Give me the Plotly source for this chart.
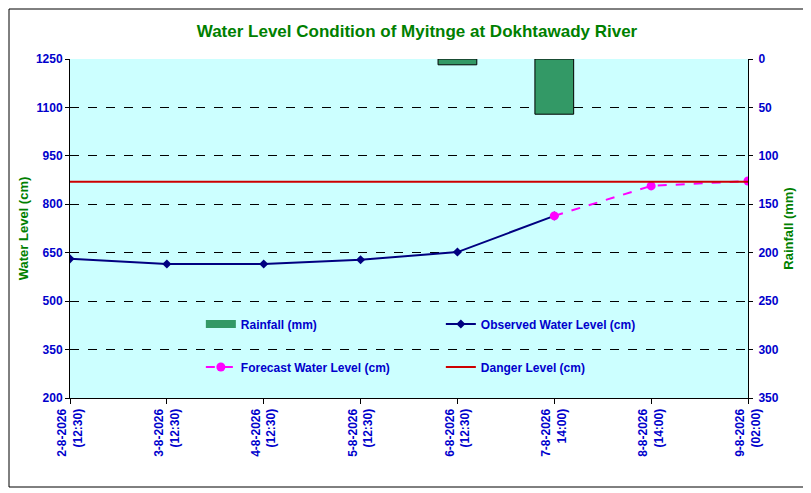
import plotly.graph_objects as go

# categories on x axis
dates = ["2-8-2026<br>(12:30)", "3-8-2026<br>(12:30)", "4-8-2026<br>(12:30)",
         "5-8-2026<br>(12:30)", "6-8-2026<br>(12:30)", "7-8-2026<br>14:00)",
         "8-8-2026<br>(14:00)", "9-8-2026<br>(02:00)"]
xpos = list(range(len(dates)))

rainfall = [None, None, None, None, 6, 57, None, None]
observed = [631, 615, 615, 628, 652, 764, None, None]
forecast = [None, None, None, None, None, 764, 857, 872]
danger_level = 870
danger = [danger_level] * len(dates)

blue = "#0000CC"
green = "#008000"
bar_green = "#339966"
font = "Liberation Sans, Arial, sans-serif"

# page has an 8px body margin, so the figure is a bit smaller than the window
W, H = 803, 485
L, R, T, B = 62, 63, 51, 95
pw, ph = W - L - R, H - T - B

fig = go.Figure()

fig.add_trace(go.Bar(
    x=xpos, y=rainfall, name="<b>Rainfall (mm)</b>", yaxis="y2",
    width=0.4, marker=dict(color=bar_green, line=dict(color="black", width=1)),
    showlegend=False, legendgroup="rain"))

# legend entry for the rainfall bars (wide flat swatch like the original)
fig.add_trace(go.Scatter(
    x=[None], y=[None], name="<b>Rainfall (mm)</b>", mode="lines",
    line=dict(color=bar_green, width=8), legendgroup="rain",
    legend="legend"))

fig.add_trace(go.Scatter(
    x=xpos, y=observed, name="<b>Observed Water Level (cm)</b>", mode="lines+markers",
    line=dict(color="#000080", width=2), marker=dict(symbol="diamond", size=7),
    legend="legend"))

fig.add_trace(go.Scatter(
    x=xpos, y=forecast, name="<b>Forecast Water Level (cm)</b>", mode="lines+markers",
    line=dict(color="#FF00FF", width=2, dash="dash"), marker=dict(symbol="circle", size=9),
    legend="legend2"))

fig.add_trace(go.Scatter(
    x=xpos, y=danger, name="<b>Danger Level (cm)</b>", mode="lines",
    line=dict(color="#CC0000", width=2),
    legend="legend2"))

fig.update_layout(
    width=W, height=H,
    margin=dict(l=L, r=R, t=T, b=B),
    paper_bgcolor="white", plot_bgcolor="#CCFFFF",
    font=dict(family=font, color=blue, size=12),
    title=dict(text="<b>Water Level Condition of Myitnge at Dokhtawady River</b>",
               x=409 / W, xanchor="center", y=1 - 23 / H, yanchor="middle",
               font=dict(size=17, color=green)),
    xaxis=dict(range=[0, 7], tickvals=xpos, ticktext=["<b>" + d + "</b>" for d in dates],
               tickangle=-90, showgrid=False, zeroline=False, automargin=False,
               showline=True, linecolor="black", linewidth=1,
               ticks="outside", ticklen=5, tickcolor="black",
               tickfont=dict(size=12, color=blue)),
    yaxis=dict(range=[200, 1250], tickvals=list(range(200, 1251, 150)),
               ticktext=["<b>%d</b>" % v for v in range(200, 1251, 150)],
               showgrid=True, gridcolor="black", griddash="dash", gridwidth=1,
               zeroline=False, showline=True, linecolor="black", linewidth=1,
               ticks="outside", ticklen=4, tickcolor="black", automargin=False,
               title=dict(text="<b>Water Level (cm)</b>", font=dict(size=13, color=green),
                          standoff=4)),
    yaxis2=dict(range=[350, 0], overlaying="y", side="right",
                tickvals=list(range(0, 351, 50)),
                ticktext=["<b>%d</b>" % v for v in range(0, 351, 50)],
                showgrid=False, zeroline=False, showline=True, linecolor="black", linewidth=1,
                ticks="outside", ticklen=4, tickcolor="black", automargin=False,
                ticklabelstandoff=3,
                title=dict(text="<b>Rainfall (mm)</b>", font=dict(size=13, color=green),
                           standoff=6)),
    legend=dict(orientation="h", x=0.193, y=1 - 265 / ph, xanchor="left", yanchor="middle",
                bgcolor="rgba(0,0,0,0)", entrywidth=195, entrywidthmode="pixels",
                font=dict(size=12, color=blue), traceorder="normal"),
    legend2=dict(orientation="h", x=0.193, y=1 - 308 / ph, xanchor="left", yanchor="middle",
                 bgcolor="rgba(0,0,0,0)", entrywidth=195, entrywidthmode="pixels",
                 font=dict(size=12, color=blue), traceorder="normal"),
    showlegend=True,
)

# chart frame
fig.add_shape(type="rect", xref="paper", yref="paper",
              x0=(1 - L) / pw, x1=(798 - L) / pw, y0=(H - B - 479) / ph, y1=(H - B - 1) / ph,
              line=dict(color="black", width=1))

fig.write_html("out.html")
